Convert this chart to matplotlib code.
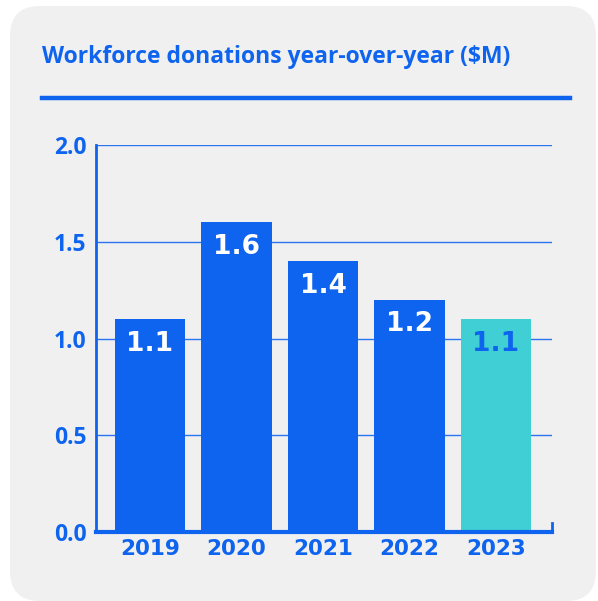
import matplotlib.pyplot as plt
from matplotlib.patches import FancyBboxPatch
import numpy as np

years = ["2019", "2020", "2021", "2022", "2023"]
donations = [1.1, 1.6, 1.4, 1.2, 1.1]
yticks = [0.0, 0.5, 1.0, 1.5, 2.0]
title = "Workforce donations year-over-year ($M)"

BLUE = "#0e64ee"
TEAL = "#40cfd4"
CARD = "#f0f0f0"

W, H = 598, 601
fig = plt.figure(figsize=(W / 100, H / 100), dpi=100)
fig.patch.set_facecolor("white")

# card background with rounded corners
card = FancyBboxPatch((10 / W, 0.0), (W - 12) / W, (H - 6) / H,
                      boxstyle="round,pad=0,rounding_size=0.05",
                      transform=fig.transFigure, facecolor=CARD, edgecolor="none",
                      zorder=-10)
fig.patches.append(card)

fig.text(42 / W, 1 - 57 / H, title, color=BLUE, fontsize=16.5,
         fontweight="bold", family="Open Sans", va="center", ha="left")
fig.add_artist(plt.Line2D([42 / W, 570 / W], [1 - 98 / H, 1 - 98 / H],
                          color=BLUE, lw=3.2, transform=fig.transFigure))

ax = fig.add_axes([96 / W, 69 / H, 456 / W, 387 / H])
ax.set_facecolor("none")

x = np.arange(len(years))
colors = [BLUE] * (len(years) - 1) + [TEAL]
ax.set_axisbelow(True)
ax.grid(axis="y", color="#2a74f0", lw=1.0)
ax.bar(x, donations, width=0.81, color=colors, zorder=3)

for i, v in enumerate(donations):
    ax.text(x[i], v - 0.06, f"{v:.1f}", ha="center", va="top",
            color="white" if i < len(years) - 1 else BLUE,
            fontsize=19, fontweight="heavy", family="DejaVu Sans", zorder=4)

ax.set_xlim(-0.624, 4.647)
ax.set_ylim(0, 2.0)
ax.set_yticks(yticks)
ax.set_yticklabels([f"{t:.1f}" for t in yticks])
ax.set_xticks(x)
ax.set_xticklabels(years)

for lab in ax.get_yticklabels():
    lab.set_family("Open Sans")
    lab.set_fontweight("bold")
    lab.set_fontsize(16.5)
    lab.set_color(BLUE)
for lab in ax.get_xticklabels():
    lab.set_family("DejaVu Sans")
    lab.set_fontweight("bold")
    lab.set_fontsize(15.5)
    lab.set_color(BLUE)

ax.tick_params(length=0)
ax.tick_params(axis="y", pad=7)
ax.tick_params(axis="x", pad=5)
for s in ["top", "right"]:
    ax.spines[s].set_visible(False)
ax.spines["left"].set_color(BLUE)
ax.spines["left"].set_linewidth(2)
ax.spines["bottom"].set_color(BLUE)
ax.spines["bottom"].set_linewidth(3)
ax.spines["bottom"].set_zorder(5)
ax.axvline(ax.get_xlim()[1], ymin=0, ymax=0.022, color=BLUE, lw=2, clip_on=False)

fig.savefig("out.png", dpi=100, facecolor=fig.get_facecolor())
